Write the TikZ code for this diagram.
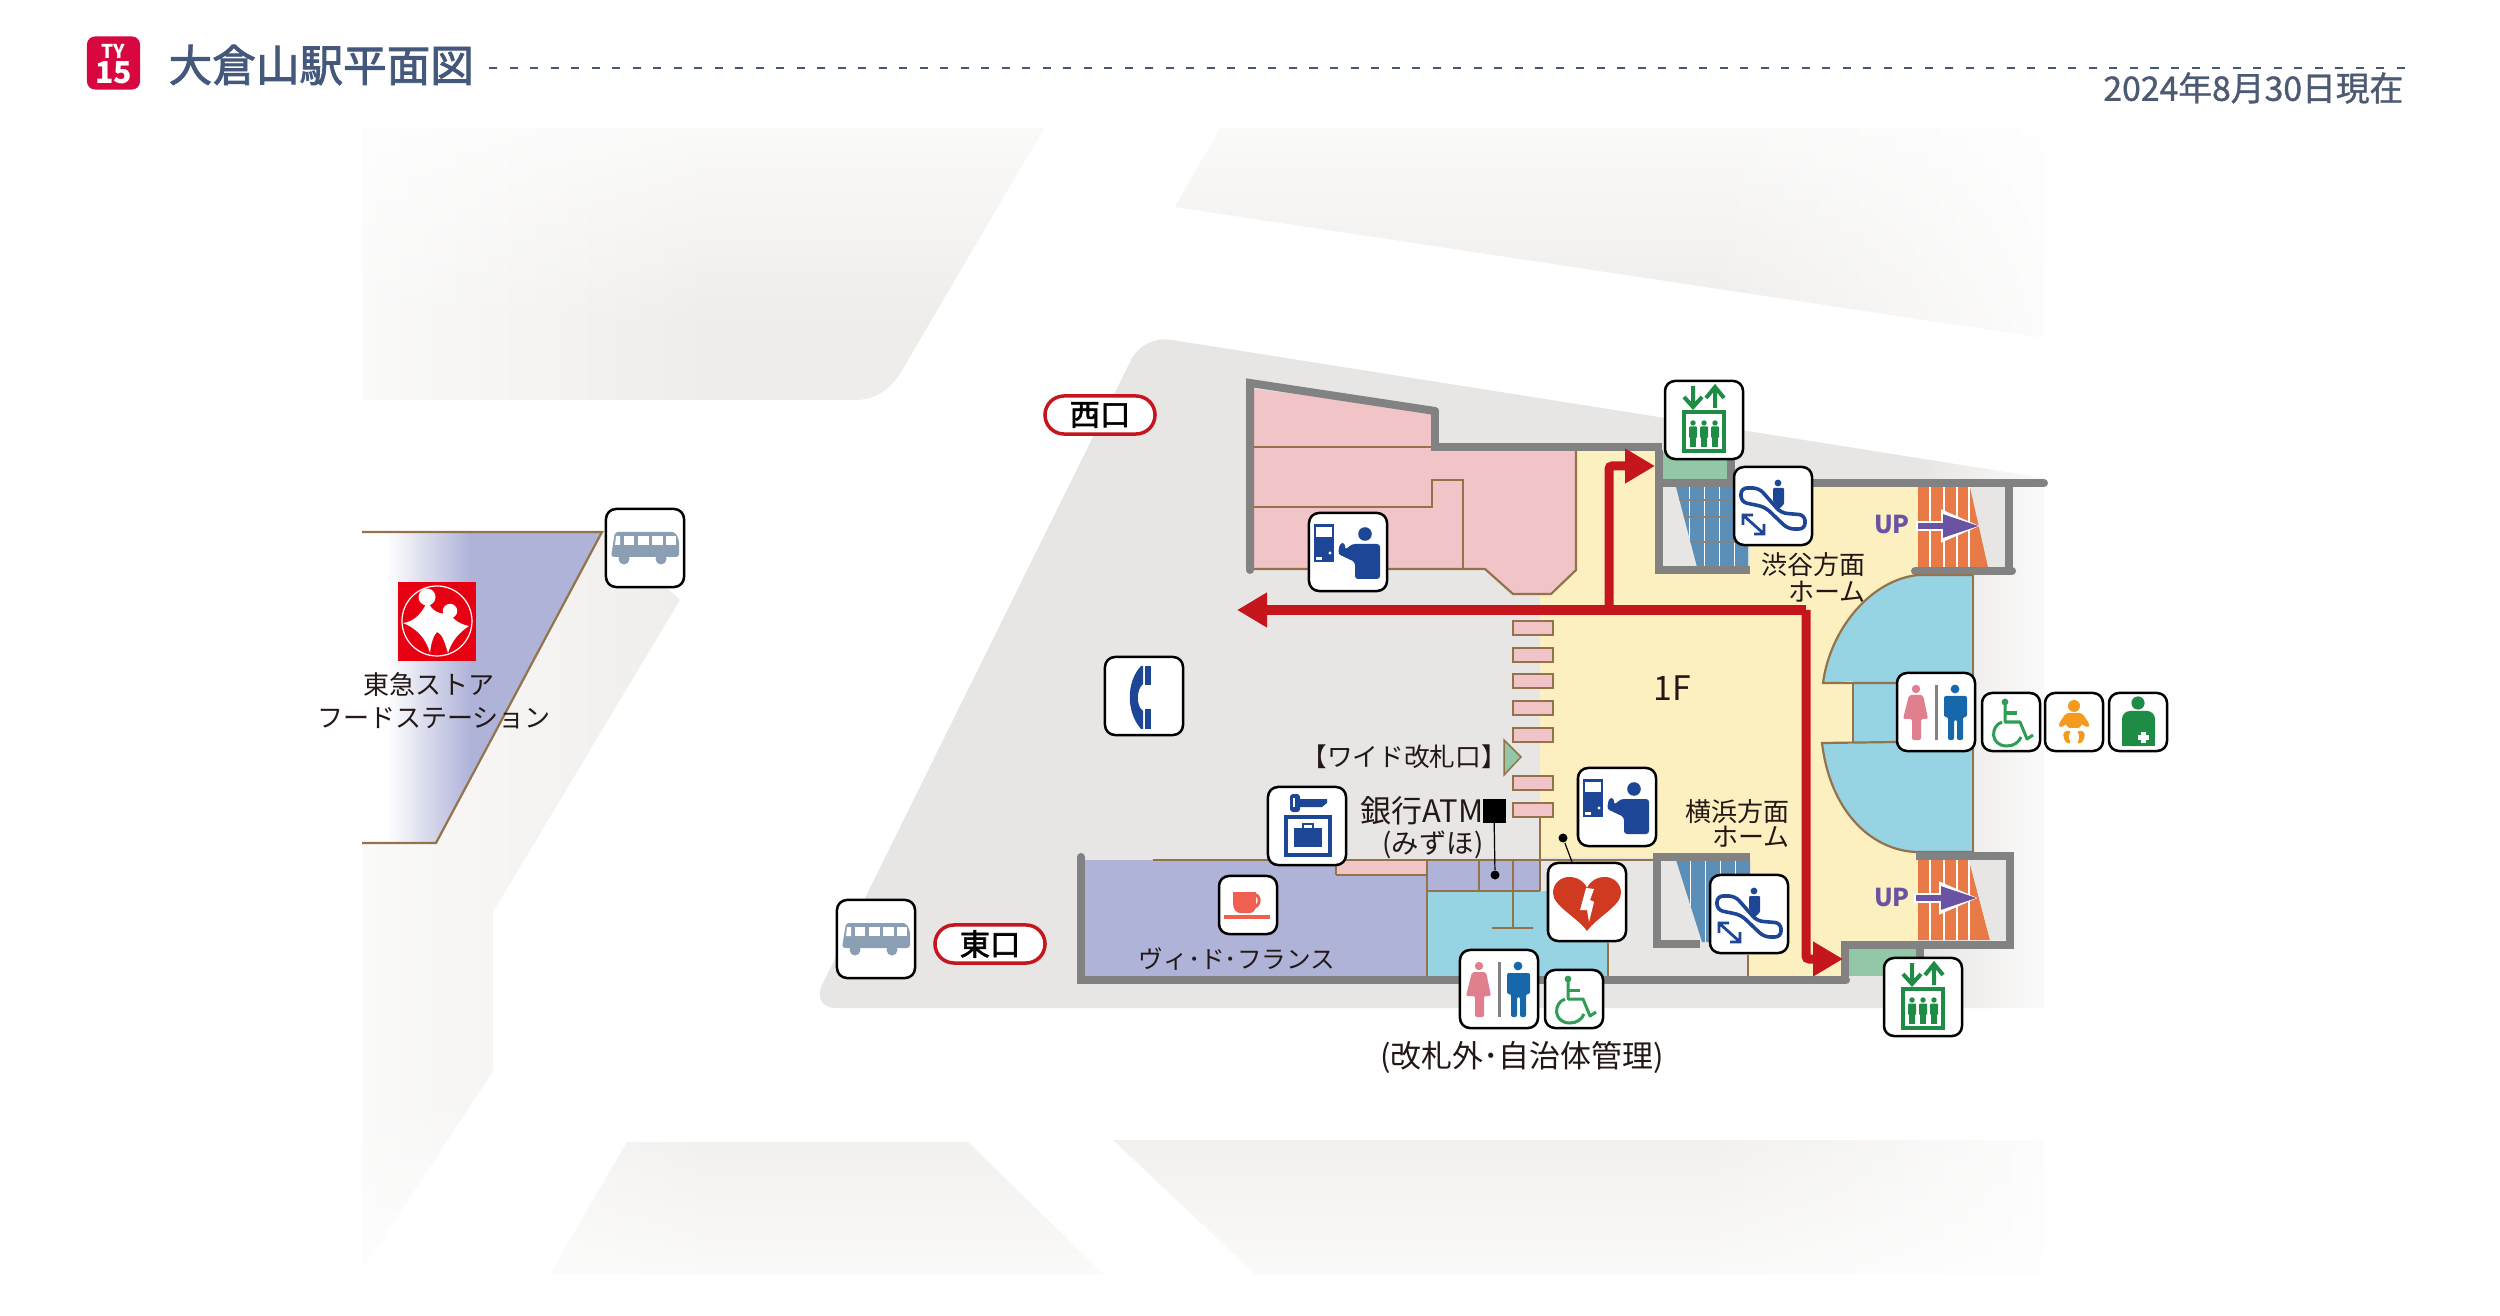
\documentclass[tikz,border=0pt]{standalone}
\usepackage{fontspec}
\setmainfont{Noto Sans CJK JP}
\newfontfamily\headfont[FakeBold=2]{Noto Sans CJK JP}
\newfontfamily\datefont[FakeBold=1]{Noto Sans CJK JP}
\usetikzlibrary{arrows.meta,fadings}

\definecolor{ink}{HTML}{231815}
\definecolor{headblue}{HTML}{44587C}
\definecolor{dategrey}{HTML}{4C5A72}
\definecolor{badgered}{HTML}{D9073F}
\definecolor{groundgrey}{HTML}{E8E6E4}
\definecolor{palegrey}{HTML}{EFEDEA}
\definecolor{wallgrey}{HTML}{828282}
\definecolor{trim}{HTML}{94734A}
\definecolor{floorpink}{HTML}{F1C4C8}
\definecolor{flooryellow}{HTML}{FDF0C0}
\definecolor{floorlav}{HTML}{AFB3D8}
\definecolor{floorblue}{HTML}{96D3E3}
\definecolor{stairorange}{HTML}{E87A48}
\definecolor{liftgreen}{HTML}{92C8A8}
\definecolor{escblue}{HTML}{5B8FB8}
\definecolor{routered}{HTML}{C4161C}
\definecolor{upviolet}{HTML}{6A53A3}
\definecolor{signblue}{HTML}{1E4696}
\definecolor{signgreen}{HTML}{1E8C45}
\definecolor{wheelgreen}{HTML}{2F9D54}
\definecolor{babyorange}{HTML}{F39A1F}
\definecolor{womanpink}{HTML}{E0808F}
\definecolor{manblue}{HTML}{1668AB}
\definecolor{busgrey}{HTML}{8A9FB3}
\definecolor{aedred}{HTML}{CF3A20}
\definecolor{cafered}{HTML}{EF6050}
\definecolor{logored}{HTML}{E60012}

\tikzset{
  lbl/.style={font=\fontsize{7.4pt}{9pt}\selectfont,text=ink,inner sep=0pt},
  iconbox/.style={draw=black,fill=white,line width=0.025cm,rounded corners=0.10cm,minimum size=0.78cm,inner sep=0pt},
  iconsmall/.style={iconbox,minimum size=0.58cm},
  gatepill/.style={draw=routered,fill=white,line width=0.035cm,rounded corners=0.19cm,minimum width=1.10cm,minimum height=0.38cm,inner sep=0pt,font=\fontsize{8.6pt}{10pt}\selectfont\headfont},
  wall/.style={draw=wallgrey,line width=0.08cm},
  trimline/.style={draw=trim,line width=0.022cm},
  route/.style={draw=routered,line width=0.09cm,rounded corners=0.03cm},
  routehead/.style={-{Triangle[length=0.30cm,width=0.33cm]}},
  gatebar/.style={draw=trim,fill=floorpink,line width=0.02cm,minimum width=0.40cm,minimum height=0.13cm,inner sep=0pt},
  uplbl/.style={lbl,font=\fontsize{7pt}{8pt}\selectfont\bfseries,text=upviolet},
  elevicon/.pic={
    \draw[signgreen,line width=0.04cm] (-11,-34) -- (-11,-13) (-20,-23) -- (-11,-13) -- (-2,-23);
    \draw[signgreen,line width=0.04cm] (11,-12) -- (11,-33) (2,-22) -- (11,-33) -- (20,-22);
    \draw[signgreen,line width=0.04cm] (-20,-8) rectangle (20,31);
    \foreach \px in {-11,0,11} {
      \fill[signgreen] (\px,3) circle (2.7);
      \fill[signgreen,rounded corners=0.01cm] (\px-4,6.5) rectangle (\px+4,18);
      \fill[signgreen] (\px-2.6,17) rectangle (\px+2.6,27);
    }
  },
  escicon/.pic={
    \draw[signblue,line width=0.036cm,rounded corners=0.06cm] (-32,-18) -- (-14,-18) -- (8,7) -- (32,9) -- (32,23) -- (15,23) -- (-8,1) -- (-32,-4) -- cycle;
    \fill[signblue] (5,-23) circle (3.4);
    \fill[signblue,rounded corners=0.01cm] (0,-18) -- (11,-18) -- (11,-2) -- (6,3) -- (0,-5) -- cycle;
    \draw[signblue,line width=0.028cm] (-29,10) -- (-10,27) (-30,19) -- (-30,9) -- (-20,9) (-9,18) -- (-9,28) -- (-19,28);
  },
  ticketicon/.pic={
    \fill[signblue] (-34,-28) rectangle (-14,10);
    \fill[white] (-32,-25) rectangle (-16,-15);
    \fill[white] (-32,5) rectangle (-26,8);
    \fill[white] (-18,1) circle (1.6);
    \fill[signblue] (17,-18) circle (6.8);
    \fill[signblue,rounded corners=0.03cm] (7,27) -- (7,10) -- (-10,2) -- (-8,-9) -- (-3,-9) -- (-3,-2) -- (4,-8) -- (32,-8) -- (32,27) -- cycle;
  },
  toileticon/.pic={
    \fill[womanpink] (-20,-23) circle (4.2);
    \fill[womanpink,rounded corners=0.02cm] (-27,-17) -- (-13,-17) -- (-8,7) -- (-15,7) -- (-15,28) -- (-24,28) -- (-24,7) -- (-33,7) -- cycle;
    \fill[wallgrey] (-1.5,-27) rectangle (1.5,28);
    \fill[manblue] (19,-23) circle (4.4);
    \fill[manblue,rounded corners=0.02cm] (8,-16) -- (31,-16) -- (31,5) -- (27,5) -- (27,28) -- (21,28) -- (21,8) -- (18,8) -- (18,28) -- (12,28) -- (12,5) -- (8,5) -- cycle;
  },
  wheelicon/.pic={
    \fill[wheelgreen] (-6,-20) circle (3.4);
    \draw[wheelgreen,line width=0.03cm,line join=round] (-6,-18) -- (-6,0) -- (9,0) -- (16,17) -- (22,13);
    \draw[wheelgreen,line width=0.03cm] (-6,-9) -- (6,-9);
    \draw[wheelgreen,line width=0.03cm] (-9,0) .. controls (-21,4) and (-21,24) .. (-4,24) .. controls (3,24) and (8,20) .. (10,15);
  },
  babyicon/.pic={
    \fill[babyorange] (0,-16) circle (6);
    \fill[babyorange,rounded corners=0.03cm] (-8,-9) -- (8,-9) -- (16,3) -- (13,6) -- (7,1) -- (7,6) -- (-7,6) -- (-7,1) -- (-13,6) -- (-16,3) -- cycle;
    \fill[babyorange,rounded corners=0.02cm] (-10,9) -- (-3,9) -- (-6,15) -- (-3,21) -- (-7,22) -- (-11,15) -- cycle;
    \fill[babyorange,rounded corners=0.02cm] (10,9) -- (3,9) -- (6,15) -- (3,21) -- (7,22) -- (11,15) -- cycle;
  },
  ostoicon/.pic={
    \fill[signgreen] (0,-19) circle (6.6);
    \fill[signgreen,rounded corners=0.08cm] (-16,24) -- (-16,-11) -- (17,-11) -- (17,24) -- cycle;
    \fill[signgreen] (-16,15) rectangle (17,24);
    \fill[white] (3,10) rectangle (8,21);
    \fill[white] (0,13) rectangle (11,18);
  },
  busicon/.pic={
    \fill[busgrey,rounded corners=0.03cm] (-34,9) -- (-30,-16) -- (30,-16) -- (34,-8) -- (34,9) -- cycle;
    \foreach \wa/\wb in {-21/-11,-7/4,7/18,21/31} {
      \fill[white] (\wa,-12) rectangle (\wb,-3);
    }
    \fill[white] (-29,-12) -- (-25,-12) -- (-25,-3) -- (-30,-3) -- cycle;
    \fill[busgrey] (-21,11) circle (5.5);
    \fill[busgrey] (16,11) circle (5.5);
  },
  phoneicon/.pic={
    \fill[signblue] (-3,-30) .. controls (-18,-14) and (-18,16) .. (-3,33) -- (-1,33) -- (-1,15) .. controls (-8,10) and (-8,-6) .. (-1,-12) -- (-1,-30) -- cycle;
    \fill[signblue] (1,-30) rectangle (7,-11);
    \fill[signblue] (1,13) rectangle (7,33);
  },
  lockericon/.pic={
    \fill[signblue,rounded corners=0.03cm] (-17,-32) rectangle (-7,-14);
    \fill[signblue] (-8,-27) -- (20,-27) -- (20,-23) -- (15,-19) -- (-8,-19) -- cycle;
    \fill[white] (-14,-28) rectangle (-12,-19);
    \draw[signblue,line width=0.045cm] (-21,-9) rectangle (23,29);
    \fill[signblue] (-13,2) rectangle (15,21);
    \draw[signblue,line width=0.018cm] (-4,2) -- (-4,-2) -- (6,-2) -- (6,2);
  },
  aedicon/.pic={
    \fill[aedred] (0,29) .. controls (-10,15) and (-34,4) .. (-34,-9) .. controls (-34,-19) and (-26,-25) .. (-18,-25) .. controls (-10,-25) and (-3,-21) .. (0,-14) .. controls (3,-21) and (10,-25) .. (18,-25) .. controls (26,-25) and (34,-19) .. (34,-9) .. controls (34,4) and (10,15) .. (0,29) -- cycle;
    \fill[white] (-1,-14) -- (7,-13) -- (3,-2) -- (7,0) -- (2,20) -- (0,8) -- (-7,8) -- cycle;
  },
  cafeicon/.pic={
    \draw[cafered,line width=0.03cm] (4,-10) .. controls (13,-13) and (14,2) .. (4,3);
    \fill[cafered] (-15,-13) -- (8,-13) -- (8,0) .. controls (8,6) and (4,8) .. (2,8) -- (-8,8) .. controls (-12,8) and (-15,4) .. (-15,-2) -- cycle;
    \fill[cafered] (-24,10) rectangle (22,14);
  },
  upmark/.pic={
    \draw[white,line width=0.10cm,-{Triangle[length=0.40cm,width=0.30cm]}] (0,0) -- (65,0);
    \draw[upviolet,line width=0.055cm,-{Triangle[length=0.36cm,width=0.22cm]}] (2,0) -- (63,0);
  }
}

\begin{document}
\begin{tikzpicture}[x=0.01cm,y=-0.01cm]
\useasboundingbox (0,0) rectangle (2500,1316);
\fill[white] (0,0) rectangle (2500,1316);

\fill[palegrey] (362,128) -- (1044,128) -- (908,360) .. controls (895,385) and (880,400) .. (855,400) -- (362,400) -- cycle;
\fill[palegrey] (1220,128) -- (2044,128) -- (2044,338) -- (1175,207) -- cycle;
\fill[palegrey] (362,843) -- (435,843) -- (604,531) -- (680,600) -- (493,912) -- (493,1071) -- (362,1270) -- cycle;
\fill[palegrey] (627,1142) -- (968,1142) -- (1103,1274) -- (550,1274) -- cycle;
\fill[palegrey] (1113,1140) -- (2044,1140) -- (2044,1274) -- (1255,1274) -- cycle;
\fill[groundgrey] (1172,340) -- (2044,478) -- (2044,1008) -- (836,1008) .. controls (822,1008) and (816,998) .. (822,985) -- (1132,358) .. controls (1140,345) and (1155,337) .. (1172,340) -- cycle;

\fill[white,path fading=east] (243,120) rectangle (719,1290);
\fill[white,path fading=south] (355,62) rectangle (2060,330);
\fill[white,path fading=west] (1700,62) rectangle (2100,345);
\fill[white,path fading=west] (1920,345) rectangle (2068,1016);
\fill[white,path fading=west] (1700,1016) rectangle (2100,1290);
\fill[white,path fading=north] (355,1088) rectangle (2060,1336);

\begin{scope}
\clip (362,532) -- (602,532) -- (436,843) -- (362,843) -- cycle;
\fill[floorlav] (470,525) rectangle (610,850);
\shade[left color=white,right color=floorlav] (387,525) rectangle (470,850);
\end{scope}
\draw[trimline] (362,532) -- (602,532) -- (436,843) -- (362,843);

\fill[flooryellow] (1576,450) -- (1660,450) -- (1660,483) -- (1918,483) -- (1918,574) -- (1973,574) -- (1973,852) -- (1918,852) -- (1918,943) -- (1845,943) -- (1845,977) -- (1748,977) -- (1748,857) -- (1540,857) -- (1540,594) -- (1551,594) -- (1576,570) -- cycle;

\fill[floorpink] (1254,389) -- (1431,411) -- (1431,448) -- (1576,450) -- (1576,570) -- (1551,594) -- (1513,594) -- (1485,569) -- (1254,569) -- cycle;
\draw[trimline] (1254,447) -- (1431,447);
\draw[trimline] (1254,507) -- (1432,507) -- (1432,480) -- (1463,480) -- (1463,569);
\draw[trimline] (1254,569) -- (1485,569) -- (1513,594) -- (1551,594) -- (1576,570) -- (1576,450);

\fill[groundgrey] (1659,487) rectangle (1750,567);
\fill[escblue] (1676,487) -- (1748,487) -- (1748,567) -- (1697,567) -- cycle;
\begin{scope}
\clip (1676,487) -- (1748,487) -- (1748,567) -- (1697,567) -- cycle;
\foreach \sx in {1689,1704,1719,1734} {
  \draw[white,line width=0.008cm] (\sx,487) -- (\sx,567);
}
\foreach \sy in {500,517,542} {
  \draw[wallgrey,line width=0.015cm] (1676,\sy) -- (1748,\sy);
}
\end{scope}
\fill[liftgreen] (1656,452) rectangle (1727,482);
\draw[wall] (1659,450) -- (1659,570) -- (1750,570);
\draw[wall] (1656,483) -- (1731,483) -- (1731,455);

\fill[stairorange] (1918,487) -- (1972,487) -- (1989,567) -- (1918,567) -- cycle;
\foreach \sx in {1930,1944,1957,1969} {
  \draw[white,line width=0.012cm] (\sx,487) -- (\sx,567);
}
\fill[groundgrey] (1970,487) -- (2006,487) -- (2006,567) -- (1988,567) -- cycle;
\draw[wall,line cap=round] (1435,411) -- (1435,447);
\draw[wall,line cap=round] (1250,570) -- (1250,383) -- (1435,411);
\draw[wall] (1431,447) -- (1662,447);
\draw[wall,line cap=round] (1814,483) -- (2044,483);
\draw[wall] (2009,483) -- (2009,573);
\draw[wall,line cap=round] (1915,571) -- (2012,571);

\fill[floorblue] (1918,575) .. controls (1870,580) and (1830,630) .. (1823,683) -- (1853,681) -- (1853,744) -- (1822,743) .. controls (1830,810) and (1870,850) .. (1916,852) -- (1974,852) -- (1974,575) -- cycle;
\draw[trimline] (1973,575) -- (1918,575) .. controls (1870,580) and (1830,630) .. (1823,683) -- (1896,683);
\draw[trimline] (1853,683) -- (1853,742);
\draw[trimline] (1896,742) -- (1822,743) .. controls (1830,810) and (1870,850) .. (1916,852) -- (1974,852);
\draw[trimline] (1973,575) -- (1973,852);

\fill[floorlav] (1085,860) rectangle (1427,977);
\fill[floorlav] (1427,860) rectangle (1540,891);
\fill[floorpink] (1336,860) rectangle (1427,875);
\draw[trimline] (1336,875) -- (1427,875) (1336,860) -- (1336,875);
\fill[floorblue] (1427,891) -- (1608,891) -- (1608,977) -- (1427,977) -- cycle;
\draw[trimline] (1153,860) -- (1653,860);
\draw[trimline] (1427,860) -- (1427,977);
\draw[trimline] (1427,891) -- (1540,891);
\draw[trimline] (1479,860) -- (1479,891);
\draw[trimline] (1513,860) -- (1513,928);
\draw[trimline] (1492,928) -- (1533,928);
\draw[trimline] (1540,817) -- (1540,891);
\draw[trimline] (1608,943) -- (1608,977);
\draw[trimline] (1748,955) -- (1748,977);

\fill[groundgrey] (1660,860) rectangle (1750,942);
\fill[escblue] (1676,860) -- (1750,860) -- (1750,942) -- (1702,942) -- cycle;
\begin{scope}
\clip (1676,860) -- (1750,860) -- (1750,942) -- (1702,942) -- cycle;
\foreach \sx in {1690,1705,1720,1735} {
  \draw[white,line width=0.008cm] (\sx,860) -- (\sx,942);
}
\end{scope}
\draw[wall] (1700,944) -- (1657,944) -- (1657,857) -- (1750,857);

\fill[stairorange] (1918,860) -- (1969,860) -- (1990,940) -- (1918,940) -- cycle;
\foreach \sx in {1930,1944,1957,1969} {
  \draw[white,line width=0.012cm] (\sx,860) -- (\sx,940);
}
\fill[groundgrey] (1969,860) -- (2006,860) -- (2006,940) -- (1990,940) -- cycle;
\draw[wall] (1916,856) -- (2010,856) -- (2010,945) -- (1845,945) -- (1845,982);
\draw[wall] (1920,945) -- (1920,962);
\fill[liftgreen] (1849,949) rectangle (1916,976);

\draw[wall,line cap=round] (1081,857) -- (1081,980) -- (1846,980);

\foreach \gy/\gn in {628/a,655/b,681/c,708/d,735/e,783/f,810/g} {
  \node[gatebar] (gate\gn) at (1533,\gy) {};
}
\fill[liftgreen,draw=trim,line width=0.015cm] (1504,740) -- (1521,757) -- (1504,775) -- cycle;

\coordinate (routeWest) at (1237,610);
\coordinate (routeMid) at (1609,610);
\coordinate (routeEast) at (1806,610);
\coordinate (routeBend) at (1609,466);
\coordinate (routeLift) at (1655,466);
\coordinate (routeSouth) at (1806,959);
\coordinate (routeLow) at (1843,959);
\draw[route,routehead] (routeEast) -- (routeWest);
\draw[route,routehead] (routeMid) -- (routeBend) -- (routeLift);
\draw[route,routehead] (routeEast) -- (routeSouth) -- (routeLow);

\node[lbl,font=\fontsize{9.6pt}{11pt}\selectfont] (floorName) at (1672,688) {1F};
\node[lbl,anchor=east] (shibuyaA) at (1866,565) {渋谷方面};
\node[lbl,anchor=east] (shibuyaB) at (1866,592) {ホーム};
\node[lbl,anchor=east] (yokohamaA) at (1790,812) {横浜方面};
\node[lbl,anchor=east] (yokohamaB) at (1790,837) {ホーム};
\node[lbl,font=\fontsize{7.3pt}{9pt}\selectfont] (wideGate) at (1404,757) {【ワイド改札口】};
\node[lbl,anchor=east,font=\fontsize{8.8pt}{9pt}\selectfont] (atmName) at (1484,811) {銀行ATM};
\node[lbl,font=\fontsize{7.8pt}{9pt}\selectfont] (atmBank) at (1433,845) {(みずほ)};
\node[lbl,font=\fontsize{7pt}{9pt}\selectfont] (cafeName) at (1237,959) {ヴィ･ド･フランス};
\node[lbl,font=\fontsize{8.8pt}{9pt}\selectfont] (outside) at (1522,1057) {(改札外･自治体管理)};
\node[lbl] (storeA) at (429,685) {東急ストア};
\node[lbl] (storeB) at (434,718) {フードステーション};

\node[fill=black,minimum width=0.23cm,minimum height=0.23cm,inner sep=0pt] (atmMark) at (1494,811) {};
\node[circle,fill=black,inner sep=0pt,minimum size=0.09cm] (atmDot) at (1495,875) {};
\draw[line width=0.012cm] (atmMark) -- (atmDot);
\node[circle,fill=black,inner sep=0pt,minimum size=0.09cm] (aedDot) at (1563,838) {};

\node[uplbl] (upTop) at (1892,525) {UP};
\node[uplbl] (upLow) at (1892,898) {UP};
\pic at (1916,526) {upmark};
\pic at (1914,898) {upmark};

\node[iconbox] (elevTop) at (1704,420) {};
\node[iconbox] (escTop) at (1773,506) {};
\node[iconbox] (ticketTop) at (1348,552) {};
\node[iconbox] (toiletRight) at (1936,712) {};
\node[iconsmall] (wheelRight) at (2011,722) {};
\node[iconsmall] (babyRight) at (2074,722) {};
\node[iconsmall] (ostoRight) at (2138,722) {};
\node[iconbox] (phoneBox) at (1144,696) {};
\node[iconbox] (lockerBox) at (1307,826) {};
\node[iconbox] (ticketLow) at (1617,807) {};
\node[iconbox] (aedBox) at (1587,902) {};
\node[iconbox] (escLow) at (1749,914) {};
\node[iconsmall] (cafeBox) at (1248,905) {};
\node[iconbox] (toiletLow) at (1499,989) {};
\node[iconsmall] (wheelLow) at (1574,999) {};
\node[iconbox] (elevLow) at (1923,997) {};
\node[iconbox] (busWest) at (645,548) {};
\node[iconbox] (busEast) at (876,939) {};
\draw[line width=0.012cm] (aedDot) -- (aedBox);

\pic at (elevTop) {elevicon};
\pic at (escTop) {escicon};
\pic at (ticketTop) {ticketicon};
\pic at (toiletRight) {toileticon};
\pic at (wheelRight) {wheelicon};
\pic at (babyRight) {babyicon};
\pic at (ostoRight) {ostoicon};
\pic at (phoneBox) {phoneicon};
\pic at (lockerBox) {lockericon};
\pic at (ticketLow) {ticketicon};
\pic at (aedBox) {aedicon};
\pic at (escLow) {escicon};
\pic at (cafeBox) {cafeicon};
\pic at (toiletLow) {toileticon};
\pic at (wheelLow) {wheelicon};
\pic at (elevLow) {elevicon};
\pic at (busWest) {busicon};
\pic at (busEast) {busicon};

\node[gatepill] (westGate) at (1100,415) {西口};
\node[gatepill] (eastGate) at (990,944) {東口};

\fill[logored] (398,582) rectangle (476,661);
\draw[white,line width=0.012cm] (437,621) circle (35);
\fill[white] (427,597) circle (8.5);
\fill[white] (450,611) circle (7.2);
\fill[white] (403,623) .. controls (415,622) and (425,610) .. (427,600) .. controls (432,612) and (440,615) .. (450,613) .. controls (452,618) and (458,624) .. (469,626) .. controls (460,632) and (452,640) .. (448,653) .. controls (444,640) and (442,634) .. (437,632) .. controls (433,636) and (431,644) .. (430,653) .. controls (426,638) and (416,628) .. (403,623) -- cycle;

\node[fill=badgered,rounded corners=0.08cm,minimum size=0.53cm,inner sep=0pt] (badge) at (113.5,63) {};
\node[inner sep=0pt,text=white,font=\fontsize{5.4pt}{6pt}\selectfont\bfseries] (badgeTop) at (113.5,51) {TY};
\node[inner sep=0pt,text=white,font=\fontsize{8.6pt}{9pt}\selectfont\bfseries] (badgeNum) at (113.5,73) {15};
\node[inner sep=0pt,anchor=west,text=headblue,font=\fontsize{12.4pt}{14pt}\selectfont\headfont] (title) at (168,65) {大倉山駅平面図};
\coordinate (ruleEnd) at (2408,68);
\draw[headblue,line width=0.025cm,dash pattern=on 0.08cm off 0.125cm] (489,68) -- (ruleEnd);
\node[inner sep=0pt,anchor=east,text=dategrey,font=\fontsize{9.6pt}{11pt}\selectfont\datefont] (dateNote) at (2404,88) {2024年8月30日現在};
\end{tikzpicture}
\end{document}
